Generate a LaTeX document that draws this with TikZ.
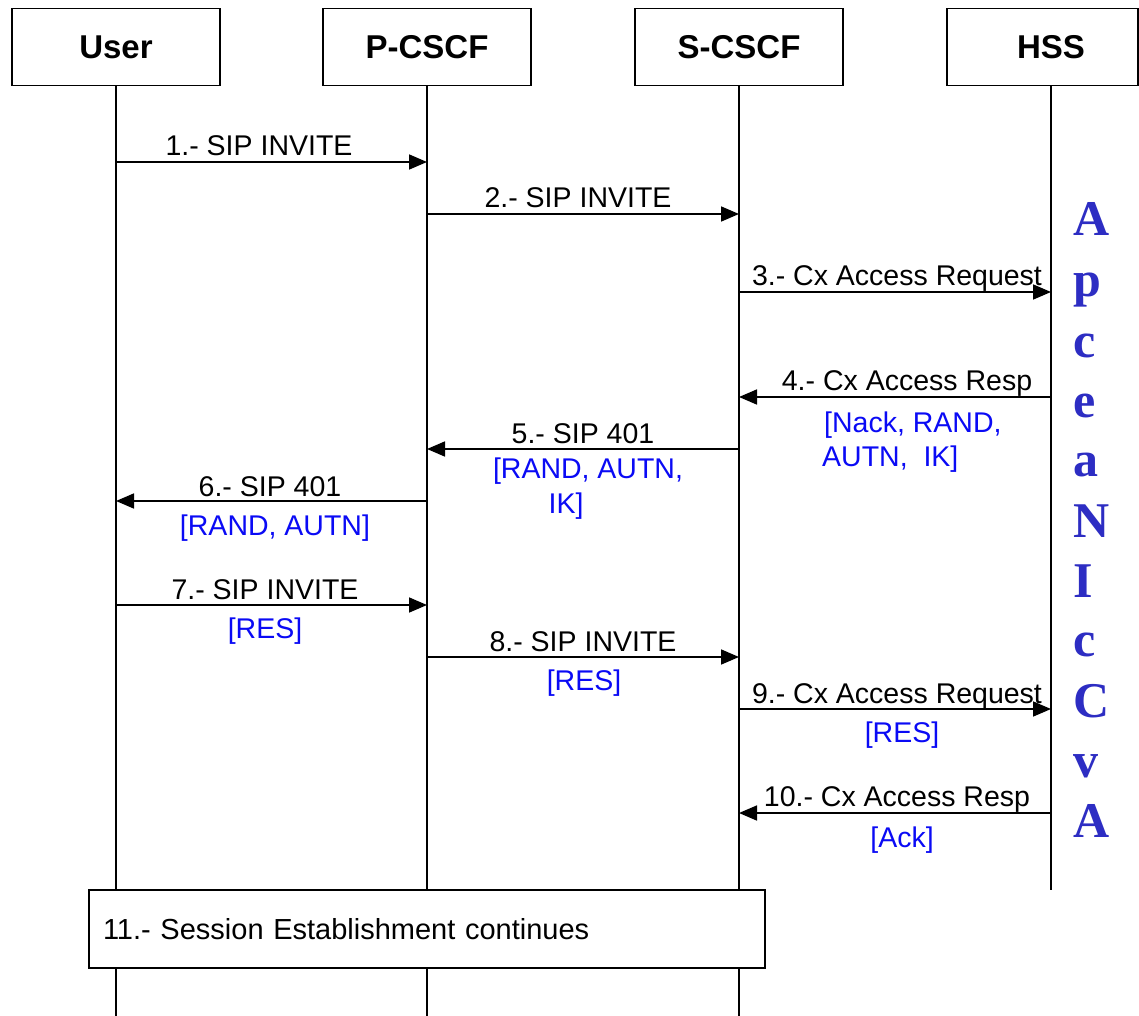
\documentclass[tikz,border=0pt]{standalone}
\usepackage{fontspec}
\setmainfont{Liberation Sans}
\newfontfamily\slidefont{Liberation Serif}
\usetikzlibrary{arrows.meta}
\definecolor{paramblue}{RGB}{10,10,245}
\definecolor{slideblue}{RGB}{45,45,195}
\tikzset{
  entity/.style={draw=black, line width=1.7pt, fill=white, minimum width=208pt,
    minimum height=77pt, inner sep=0pt, font=\fontsize{33}{38}\selectfont\bfseries},
  lifeline/.style={line width=1.7pt},
  msg/.style={line width=1.7pt, -{Triangle[length=18pt,width=15pt]}},
  lbl/.style={inner sep=0pt, anchor=base, font=\fontsize{28.5}{34}\selectfont},
  param/.style={lbl, text=paramblue},
  stagebox/.style={draw=black, line width=1.7pt, fill=white, minimum width=676pt,
    minimum height=78pt, text width=648pt, inner xsep=14pt, align=left,
    font=\fontsize{29}{34}\selectfont},
  slideletter/.style={inner sep=0pt, anchor=base west, text=slideblue,
    font=\fontsize{50}{60}\slidefont\bfseries}
}
\begin{document}
\begin{tikzpicture}[x=1pt, y=-1pt]
\useasboundingbox[fill=white] (0,0) rectangle (1139,1016);
\begin{scope}
\clip (0,0) rectangle (1139,1016);

% entity boxes
\node[entity] (user)  at (116,47)  {User};
\node[entity] (pcscf) at (427,47)  {P-CSCF};
\node[entity] (scscf) at (739,47)  {S-CSCF};
\node[entity, minimum width=191pt] (hss) at (1042.5,47) {\hspace*{17pt}HSS};

% lifeline end points
\coordinate (hssTop) at (1051,85.5);
\coordinate (bottom) at (0,1016);
\coordinate (hssEnd) at (1051,890);

% lifelines
\draw[lifeline] (user.south)  -- (user |- bottom);
\draw[lifeline] (pcscf.south) -- (pcscf |- bottom);
\draw[lifeline] (scscf.south) -- (scscf |- bottom);
\draw[lifeline] (hssTop) -- (hssEnd);

% message rows
\coordinate (r1) at (0,162);
\coordinate (r2) at (0,214);
\coordinate (r3) at (0,292);
\coordinate (r4) at (0,397);
\coordinate (r5) at (0,449);
\coordinate (r6) at (0,501);
\coordinate (r7) at (0,605);
\coordinate (r8) at (0,657);
\coordinate (r9) at (0,709);
\coordinate (r10) at (0,813);

% messages
\draw[msg] (user |- r1) -- (pcscf |- r1);
\draw[msg] (pcscf |- r2) -- (scscf |- r2);
\draw[msg] (scscf |- r3) -- (hssTop |- r3);
\draw[msg] (hssTop |- r4) -- (scscf |- r4);
\draw[msg] (scscf |- r5) -- (pcscf |- r5);
\draw[msg] (pcscf |- r6) -- (user |- r6);
\draw[msg] (user |- r7) -- (pcscf |- r7);
\draw[msg] (pcscf |- r8) -- (scscf |- r8);
\draw[msg] (scscf |- r9) -- (hssTop |- r9);
\draw[msg] (hssTop |- r10) -- (scscf |- r10);

% message labels
\node[lbl] (m1) at (259,156) {1.- SIP INVITE};
\node[lbl] (m2) at (578,208) {2.- SIP INVITE};
\node[lbl] (m3) at (897,285) {3.- Cx Access Request};
\node[lbl] (m4) at (907,390) {4.- Cx Access Resp};
\node[lbl] (m5) at (583,443) {5.- SIP 401};
\node[lbl] (m6) at (270,496) {6.- SIP 401};
\node[lbl] (m7) at (265,599) {7.- SIP INVITE};
\node[lbl] (m8) at (583,651) {8.- SIP INVITE};
\node[lbl] (m9) at (897,703) {9.- Cx Access Request};
\node[lbl] (m10) at (897,806) {10.- Cx Access Resp};

% parameters carried by the messages
\node[param, anchor=base west] (p4a) at (824,432) {[Nack, RAND,};
\node[param, anchor=base west] (p4b) at (822,466) {AUTN,\ \ IK]};
\node[param] (p5a) at (588,478) {[RAND, AUTN,};
\node[param] (p5b) at (566,513) {IK]};
\node[param] (p6) at (275,535) {[RAND, AUTN]};
\node[param] (p7) at (265,638) {[RES]};
\node[param] (p8) at (584,690) {[RES]};
\node[param] (p9) at (902,742) {[RES]};
\node[param] (p10) at (902,847) {[Ack]};

% closing step across the user, P-CSCF and S-CSCF
\node[stagebox] (s11) at (427,929) {11.- Session Establishment continues};

% slide text running along the right edge
\foreach \ch/\yb [count=\i] in {A/236, p/296, c/357, e/417, a/476, N/537, I/597, c/656, C/717, v/777, A/837}
  \node[slideletter] (side\i) at (1073,\yb) {\ch};
\end{scope}
\end{tikzpicture}
\end{document}
